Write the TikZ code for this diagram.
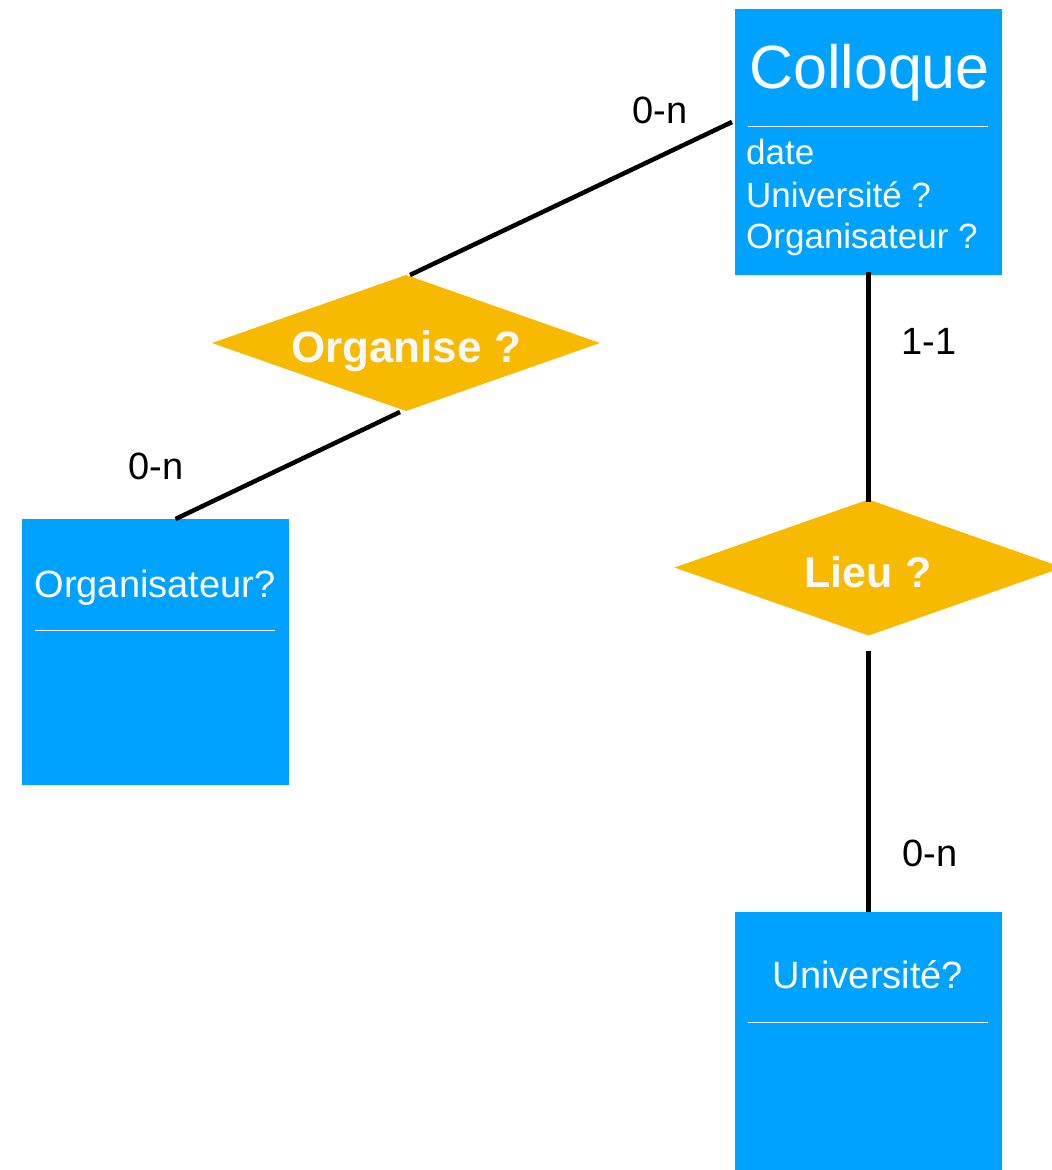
\documentclass[tikz,border=0pt]{standalone}
\usepackage{fontspec}
\setmainfont{Liberation Sans}
\usetikzlibrary{shapes.geometric,calc}
\definecolor{entblue}{RGB}{0,162,255}
\definecolor{relyellow}{RGB}{247,186,0}
\definecolor{reltext}{RGB}{248,248,248}
\begin{document}
\begin{tikzpicture}[x=1pt,y=-1pt,
  entity/.style={rectangle,fill=entblue,draw=none,minimum width=267pt,minimum height=266pt,inner sep=0pt,outer sep=0pt},
  relation/.style={diamond,fill=relyellow,draw=none,minimum width=388pt,minimum height=136pt,inner sep=0pt,outer sep=0pt},
  link/.style={line width=4.5pt,black},
  divider/.style={line width=1pt,white},
  card/.style={font=\fontsize{38}{44}\selectfont,text=black,anchor=base,inner sep=0pt},
  etitle/.style={font=\fontsize{38}{44}\selectfont,text=white,anchor=base,inner sep=0pt},
  eattr/.style={font=\fontsize{35}{42}\selectfont,text=white,anchor=base west,inner sep=0pt},
  rtitle/.style={font=\fontsize{44}{52}\selectfont\bfseries,text=reltext,anchor=base,inner sep=0pt}]
\useasboundingbox (0,0) rectangle (1052,1170);
\clip (0,0) rectangle (1052,1170);

% entities
\node[entity] (coll) at (868.5,142) {};
\node[entity] (orgbox) at (155.5,652) {};
\node[entity] (univ) at (868.5,1045) {};

% relations
\node[relation] (org) at (406,343) {};
\node[relation] (lieu) at (868.5,567.5) {};

% entity texts
\node[etitle,font=\fontsize{61}{70}\selectfont] (colltitle) at (869.5,88) {Colloque};
\draw[divider] (748,126) -- (988,126);
\node[eattr] (a1) at (746,164) {date};
\node[eattr] (a2) at (746,207) {Université ?};
\node[eattr] (a3) at (746,248) {Organisateur ?};

\node[etitle] (orgtitle) at (155,597) {Organisateur?};
\draw[divider] (35,630) -- (275,630);

\node[etitle] (univtitle) at (868,988) {Université?};
\draw[divider] (748,1022) -- (988,1022);

% relation texts
\node[rtitle] (orgtxt) at (406,362) {Organise ?};
\node[rtitle,font=\fontsize{43}{50}\selectfont\bfseries] (lieutxt) at (868,587) {Lieu ?};

% connectors
\coordinate (c1) at (732,122);
\coordinate (c2) at (400,412);
\coordinate (c4) at (868.5,651);
\draw[link] ([xshift=4pt]org.north) -- (c1);
\draw[link] (c2) -- ([xshift=20pt]orgbox.north);
\draw[link] ([yshift=3pt]coll.south) -- ([yshift=-2pt]lieu.north);
\draw[link] (c4) -- (univ.north);

% cardinalities
\node[card] (k1) at (660,123) {0-n};
\node[card] (k2) at (156,479) {0-n};
\node[card] (k3) at (929,354) {1-1};
\node[card] (k4) at (930,866) {0-n};
\end{tikzpicture}
\end{document}
